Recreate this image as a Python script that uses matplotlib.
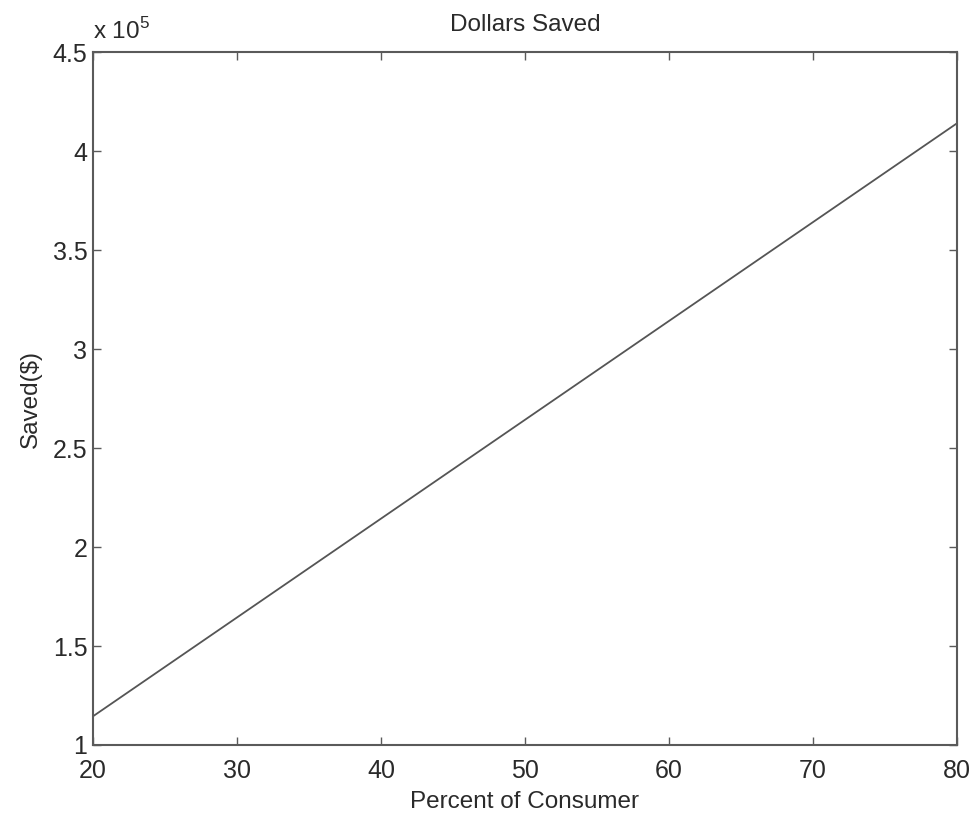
import matplotlib.pyplot as plt
from matplotlib.ticker import FuncFormatter

plt.rcParams['font.family'] = ['Liberation Sans', 'DejaVu Sans']
plt.rcParams['mathtext.fontset'] = 'custom'
plt.rcParams['mathtext.rm'] = 'Liberation Sans'

# Data (dollars saved vs percent of consumers)
percent = [20, 80]
saved = [114500, 414000]

x_ticks = [20, 30, 40, 50, 60, 70, 80]
y_ticks = [1e5, 1.5e5, 2e5, 2.5e5, 3e5, 3.5e5, 4e5, 4.5e5]

TEXT = '#2a2a2a'
EDGE = '#5a5a5a'

fig = plt.figure(figsize=(9.72, 8.15), dpi=100)
ax = fig.add_axes([93 / 972, 1 - 745 / 815, (957 - 93) / 972, (745 - 52) / 815])

ax.plot(percent, saved, color='#555555', lw=1.3)

ax.set_xlim(20, 80)
ax.set_ylim(1e5, 4.5e5)
ax.set_xticks(x_ticks)
ax.set_yticks(y_ticks)
ax.yaxis.set_major_formatter(FuncFormatter(lambda v, pos: f'{v / 1e5:g}'))

ax.tick_params(direction='in', length=6, width=1, color=EDGE, labelsize=18,
               labelcolor=TEXT, top=True, right=True)
ax.tick_params(axis='x', pad=10)
ax.tick_params(axis='y', pad=4)
for s in ax.spines.values():
    s.set_color(EDGE)
    s.set_linewidth(1.5)

ax.set_title('Dollars Saved', fontsize=17.5, color=TEXT, pad=15)
ax.set_xlabel('Percent of Consumer', fontsize=17.5, color=TEXT, labelpad=6)
ax.set_ylabel('Saved($)', fontsize=17.5, color=TEXT, labelpad=8)

# MATLAB-style exponent label above the y axis
ax.text(0.0, 1.012, r'x 10$^{5}$', transform=ax.transAxes, fontsize=17.5,
        color=TEXT, ha='left', va='bottom')

fig.savefig('out.png', dpi=100)
